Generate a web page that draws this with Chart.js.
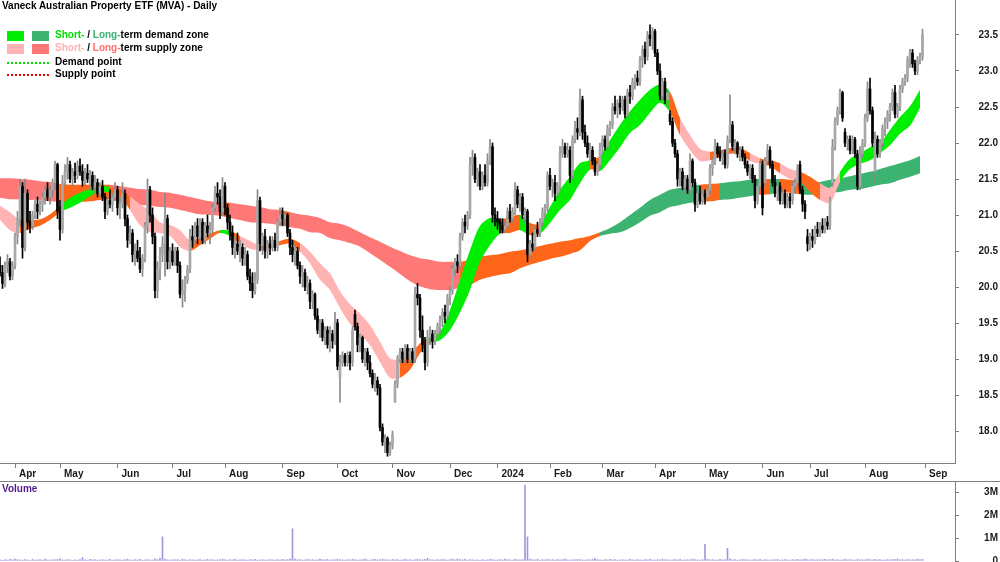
<!DOCTYPE html>
<html>
<head>
<meta charset="utf-8">
<script src="https://cdn.jsdelivr.net/npm/chart.js@4.4.1/dist/chart.umd.min.js"></script>
<style>
body { margin: 0; background: #fff; }
#wrap { position: relative; width: 1000px; height: 562px; overflow: hidden; font: bold 10px "Liberation Sans", Arial, sans-serif; }
canvas { position: absolute; left: 0; }
.t { position: absolute; white-space: nowrap; line-height: 10px; color: #000; }
.sw { position: absolute; width: 17px; height: 10px; }
.dot { position: absolute; width: 42px; height: 0; border-top: 2px dotted; }
</style>
</head>
<body>
<div id="wrap">
  <canvas id="price" width="1000" height="482" style="top:0"></canvas>
  <canvas id="vol" width="1000" height="80" style="top:482px"></canvas>
  <div style="position:absolute;left:0;top:481px;width:1000px;height:1px;background:#808080"></div>

  <div class="t" style="left:2px;top:1px">Vaneck Australian Property ETF (MVA) - Daily</div>

  <div class="sw" style="left:7px;top:31px;background:#00ee00"></div>
  <div class="sw" style="left:32px;top:31px;background:#3cb371"></div>
  <div class="t" style="left:55px;top:30px"><span style="color:#00dd00">Short-</span> / <span style="color:#3cb371">Long-</span>term demand zone</div>

  <div class="sw" style="left:7px;top:44px;background:#ffb3b3"></div>
  <div class="sw" style="left:32px;top:44px;background:#ff7878"></div>
  <div class="t" style="left:55px;top:43px"><span style="color:#ffb3b3">Short-</span> / <span style="color:#ff7070">Long-</span>term supply zone</div>

  <div class="dot" style="left:7px;top:62px;border-color:#00e000"></div>
  <div class="t" style="left:55px;top:57px">Demand point</div>
  <div class="dot" style="left:7px;top:74px;border-color:#ee0000"></div>
  <div class="t" style="left:55px;top:69px">Supply point</div>

  <div class="t" style="left:2px;top:484px;color:#551a8b">Volume</div>
</div>
<script>
// month ticks (trading-day index) and labels
const monthIdx = [6, 24, 47, 69, 90, 113, 135, 157, 180, 199, 220, 241, 262, 282, 305, 324, 346, 370];
const monthLabels = ['Apr', 'May', 'Jun', 'Jul', 'Aug', 'Sep', 'Oct', 'Nov', 'Dec', '2024', 'Feb', 'Mar', 'Apr', 'May', 'Jun', 'Jul', 'Aug', 'Sep'];
const priceTicks = [18.0, 18.5, 19.0, 19.5, 20.0, 20.5, 21.0, 21.5, 22.0, 22.5, 23.0, 23.5];
const volTicks = [0, 1, 2, 3];
const volLabels = ['0', '1M', '2M', '3M'];

const opens = [
  20.30,20.20,20.05,20.30,20.35,20.15,20.30,20.70,20.95,21.40,
  20.55,21.30,20.90,20.85,21.00,21.15,21.05,21.15,21.25,21.35,
  21.25,21.35,21.45,21.70,21.05,20.80,21.45,21.60,21.70,21.50,
  21.60,21.55,21.68,21.60,21.48,21.58,21.50,21.55,21.40,21.45,
  21.30,21.40,21.25,21.05,21.20,21.15,21.25,21.35,21.10,21.15,
  21.30,20.95,20.65,20.75,20.45,20.50,20.40,20.25,20.40,20.85,
  21.35,21.00,20.70,19.95,20.25,20.45,20.60,20.95,20.35,20.50,
  20.35,20.50,20.30,19.90,19.95,20.10,20.25,20.70,20.65,20.85,
  20.70,20.90,20.65,20.85,20.75,20.80,21.10,21.30,21.25,21.05,
  21.40,21.10,20.90,20.75,20.55,20.60,20.50,20.55,20.40,20.45,
  20.15,20.05,19.95,20.10,21.20,20.60,20.70,20.50,20.60,20.55,
  20.65,20.55,20.90,21.00,20.95,21.00,20.75,20.55,20.45,20.50,
  20.30,20.15,20.20,20.00,20.05,19.80,19.90,19.60,19.40,19.50,
  19.30,19.40,19.20,19.35,19.25,19.50,18.75,18.95,19.05,18.95,
  19.05,18.95,19.62,19.45,19.20,19.30,19.00,19.10,18.95,18.80,
  18.65,18.70,18.60,18.05,17.85,17.90,17.70,17.80,18.40,18.65,
  19.00,19.10,19.00,19.15,19.00,19.10,19.00,19.90,19.85,19.40,
  19.20,18.95,19.30,19.35,19.25,19.35,19.45,19.55,19.65,19.60,
  19.85,19.95,20.25,20.35,20.30,20.70,20.90,20.85,21.00,21.70,
  21.80,21.50,21.60,21.40,21.55,21.45,21.75,21.95,21.00,20.95,
  20.90,20.85,20.80,20.85,21.05,20.95,21.05,21.35,21.15,21.25,
  21.00,21.05,20.45,20.60,20.55,20.80,20.75,20.90,21.05,21.10,
  21.55,21.40,21.45,21.30,21.40,21.85,21.95,21.85,21.90,21.55,
  22.05,22.20,22.15,22.60,22.15,22.00,21.85,21.90,21.75,21.60,
  21.70,21.95,22.05,21.95,22.20,22.25,22.50,22.45,22.55,22.50,
  22.60,22.40,22.70,22.65,22.85,22.90,22.85,23.15,23.30,23.20,
  23.50,23.45,23.55,23.25,23.00,22.65,22.85,22.60,22.40,22.30,
  22.00,21.85,21.50,21.60,21.40,21.50,21.35,21.75,21.45,21.15,
  21.30,21.20,21.30,21.25,21.35,21.65,21.75,21.95,21.85,21.80,
  21.85,21.70,22.05,22.25,21.95,22.00,21.85,21.90,21.80,21.70,
  21.60,21.65,21.50,21.20,21.40,21.70,21.45,21.75,21.90,21.70,
  21.45,21.30,21.40,21.20,21.30,21.15,21.25,21.20,21.40,21.45,
  21.70,21.35,21.15,20.70,20.60,20.70,20.65,20.80,20.75,20.85,
  20.80,20.90,20.85,21.45,21.95,22.30,22.45,22.70,22.15,22.00,
  22.05,21.90,22.05,21.85,21.40,21.85,22.00,22.35,22.75,22.45,
  21.60,22.05,21.85,22.00,22.20,22.30,22.40,22.50,22.70,22.40,
  22.50,22.75,22.85,22.90,23.15,23.25,23.10,23.00,23.15,23.20
];
const highs = [
  20.42,20.30,20.35,20.45,20.40,20.35,20.75,21.05,21.50,21.45,
  21.50,21.35,21.05,21.05,21.20,21.25,21.20,21.30,21.40,21.45,
  21.40,21.50,21.75,21.72,21.20,21.55,21.70,21.80,21.75,21.65,
  21.72,21.75,21.78,21.70,21.65,21.70,21.62,21.60,21.55,21.50,
  21.45,21.48,21.30,21.25,21.35,21.30,21.45,21.40,21.25,21.45,
  21.35,21.00,20.85,20.80,20.60,20.65,20.55,20.45,20.90,21.50,
  21.40,21.10,20.75,20.35,20.55,20.70,21.30,21.00,20.55,20.60,
  20.55,20.55,20.35,20.10,20.15,20.30,20.80,20.85,20.90,20.95,
  20.95,20.95,20.90,21.00,20.90,21.15,21.40,21.45,21.35,21.52,
  21.45,21.15,21.00,20.85,20.70,20.75,20.65,20.60,20.55,20.50,
  20.25,20.20,20.20,21.35,21.25,20.75,20.80,20.65,20.70,20.70,
  20.75,20.95,21.10,21.10,21.05,21.02,20.80,20.65,20.60,20.55,
  20.35,20.30,20.25,20.15,20.10,19.95,19.92,19.70,19.55,19.55,
  19.45,19.45,19.45,19.40,19.65,19.55,19.05,19.10,19.08,19.10,
  19.10,19.45,19.68,19.50,19.35,19.32,19.15,19.15,19.05,18.85,
  18.80,18.75,18.65,18.10,17.95,17.92,17.85,18.00,18.70,19.05,
  19.15,19.15,19.20,19.20,19.15,19.15,20.00,20.05,19.90,19.60,
  19.30,19.40,19.45,19.40,19.40,19.50,19.60,19.70,19.75,19.90,
  20.00,20.30,20.40,20.45,20.75,20.95,21.00,21.05,21.80,21.90,
  21.85,21.65,21.70,21.60,21.70,21.85,22.05,22.00,21.10,21.05,
  20.95,20.95,20.90,21.10,21.15,21.10,21.45,21.40,21.30,21.30,
  21.10,21.08,20.65,20.75,20.85,20.90,20.95,21.10,21.15,21.60,
  21.65,21.50,21.55,21.45,21.95,22.05,22.00,22.00,21.95,22.10,
  22.30,22.35,22.75,22.65,22.25,22.10,22.00,21.95,21.80,21.75,
  22.00,22.10,22.10,22.25,22.30,22.55,22.65,22.60,22.65,22.65,
  22.65,22.75,22.80,22.90,22.95,23.00,23.20,23.35,23.40,23.55,
  23.64,23.60,23.58,23.30,23.10,22.90,22.90,22.75,22.45,22.35,
  22.05,21.90,21.65,21.65,21.55,21.55,21.85,21.78,21.50,21.35,
  21.40,21.35,21.35,21.40,21.70,21.80,22.05,22.00,21.95,21.90,
  21.90,22.10,22.67,22.30,22.05,22.02,21.95,21.95,21.85,21.75,
  21.70,21.70,21.55,21.45,21.75,21.75,21.80,21.98,21.95,21.75,
  21.55,21.45,21.45,21.35,21.35,21.30,21.30,21.45,21.50,21.70,
  21.75,21.40,21.20,20.80,20.75,20.80,20.85,20.90,20.90,20.95,
  20.95,20.98,21.25,22.05,22.35,22.50,22.75,22.72,22.20,22.10,
  22.10,22.10,22.08,21.90,21.95,22.05,22.40,22.85,22.90,22.50,
  22.15,22.10,22.05,22.25,22.35,22.45,22.55,22.75,22.80,22.55,
  22.80,22.90,22.95,23.20,23.30,23.30,23.15,23.20,23.25,23.58
];
const lows = [
  20.15,19.98,20.00,20.20,20.10,20.10,20.25,20.60,20.85,20.40,
  20.50,20.80,20.75,20.80,20.95,20.95,21.00,21.05,21.15,21.20,
  21.15,21.25,21.35,20.95,20.65,20.75,21.40,21.50,21.45,21.40,
  21.45,21.50,21.55,21.40,21.42,21.45,21.35,21.35,21.30,21.25,
  21.25,21.20,20.95,21.00,21.10,21.05,21.20,21.00,20.95,21.10,
  20.85,20.55,20.60,20.35,20.30,20.35,20.20,20.15,20.35,20.75,
  20.90,20.60,19.85,19.85,20.10,20.35,20.15,20.25,20.25,20.30,
  20.30,20.20,19.85,19.72,19.80,20.05,20.20,20.55,20.60,20.60,
  20.65,20.60,20.60,20.70,20.60,20.75,21.05,21.15,20.95,21.00,
  21.00,20.80,20.65,20.45,20.40,20.45,20.35,20.30,20.30,20.10,
  19.95,19.85,19.90,20.05,20.50,20.45,20.40,20.40,20.45,20.50,
  20.50,20.50,20.85,20.85,20.85,20.70,20.45,20.35,20.30,20.25,
  20.05,20.00,19.95,19.90,19.70,19.70,19.55,19.35,19.30,19.25,
  19.20,19.15,19.10,19.15,19.20,18.85,18.40,18.90,18.90,18.90,
  18.85,18.90,19.40,19.10,19.10,18.95,18.90,18.85,18.75,18.60,
  18.55,18.50,18.00,17.80,17.70,17.65,17.66,17.75,18.40,18.60,
  18.95,18.95,18.95,18.95,18.95,18.95,18.95,19.75,19.30,19.10,
  18.85,18.90,19.20,19.15,19.20,19.30,19.35,19.45,19.50,19.55,
  19.75,19.90,20.15,20.20,20.25,20.65,20.75,20.80,20.95,21.55,
  21.45,21.40,21.35,21.35,21.40,21.40,21.70,20.90,20.85,20.80,
  20.75,20.75,20.75,20.80,20.90,20.90,21.00,21.10,21.05,20.95,
  20.90,20.35,20.40,20.50,20.50,20.70,20.70,20.85,20.95,21.05,
  21.35,21.25,21.20,21.25,21.35,21.80,21.80,21.80,21.45,21.50,
  22.00,22.05,22.10,22.05,21.95,21.80,21.75,21.70,21.55,21.55,
  21.65,21.85,21.90,21.90,22.10,22.20,22.40,22.35,22.40,22.45,
  22.35,22.35,22.55,22.60,22.75,22.80,22.80,23.05,23.10,23.15,
  23.35,23.30,23.20,22.95,22.60,22.60,22.55,22.50,22.25,21.95,
  21.80,21.40,21.40,21.35,21.30,21.30,21.30,21.40,21.05,21.10,
  21.15,21.15,21.15,21.20,21.30,21.55,21.70,21.80,21.75,21.70,
  21.65,21.65,22.00,21.90,21.85,21.80,21.75,21.75,21.65,21.55,
  21.50,21.45,21.10,21.15,21.35,21.00,21.40,21.70,21.65,21.40,
  21.25,21.20,21.15,21.15,21.10,21.10,21.10,21.15,21.30,21.40,
  21.30,21.05,20.95,20.50,20.52,20.55,20.60,20.70,20.70,20.75,
  20.75,20.80,20.80,21.40,21.90,22.25,22.40,22.30,21.95,21.90,
  21.85,21.85,21.80,21.35,21.35,21.80,21.95,22.30,22.40,21.95,
  21.45,21.80,21.80,21.95,22.10,22.20,22.30,22.45,22.35,22.35,
  22.45,22.70,22.80,22.85,23.05,23.05,22.95,22.95,23.10,23.15
];
const closes = [
  20.20,20.05,20.30,20.38,20.15,20.30,20.70,20.95,21.40,20.55,
  21.30,20.90,20.85,21.00,21.15,21.05,21.15,21.25,21.35,21.25,
  21.35,21.45,21.70,21.05,20.80,21.45,21.60,21.70,21.50,21.60,
  21.55,21.68,21.60,21.48,21.58,21.50,21.55,21.40,21.45,21.30,
  21.40,21.25,21.05,21.20,21.15,21.25,21.35,21.10,21.15,21.30,
  20.95,20.65,20.75,20.45,20.50,20.40,20.25,20.40,20.85,21.35,
  21.00,20.70,19.95,20.25,20.45,20.60,20.95,20.35,20.50,20.35,
  20.50,20.30,19.90,19.95,20.10,20.25,20.70,20.65,20.85,20.70,
  20.90,20.65,20.85,20.75,20.80,21.10,21.30,21.25,21.05,21.40,
  21.10,20.90,20.75,20.55,20.60,20.50,20.55,20.40,20.45,20.15,
  20.05,19.95,20.10,21.20,20.60,20.70,20.50,20.60,20.55,20.65,
  20.55,20.90,21.00,20.95,21.00,20.75,20.55,20.45,20.50,20.30,
  20.15,20.20,20.00,20.05,19.80,19.90,19.60,19.40,19.50,19.30,
  19.40,19.20,19.35,19.25,19.50,18.90,18.95,19.05,18.95,19.05,
  18.95,19.40,19.45,19.20,19.30,19.00,19.10,18.95,18.80,18.65,
  18.70,18.60,18.05,17.85,17.90,17.70,17.80,17.95,18.65,19.00,
  19.10,19.00,19.15,19.00,19.10,19.00,19.90,19.85,19.40,19.20,
  18.95,19.30,19.35,19.25,19.35,19.45,19.55,19.65,19.60,19.85,
  19.95,20.25,20.35,20.30,20.70,20.90,20.85,21.00,21.70,21.80,
  21.50,21.60,21.40,21.55,21.45,21.75,21.95,21.00,20.95,20.90,
  20.85,20.80,20.85,21.05,20.95,21.05,21.35,21.15,21.25,21.00,
  21.05,20.45,20.60,20.55,20.80,20.75,20.90,21.05,21.10,21.55,
  21.40,21.45,21.30,21.40,21.85,21.95,21.85,21.90,21.55,22.05,
  22.20,22.15,22.60,22.15,22.00,21.85,21.90,21.75,21.60,21.70,
  21.95,22.05,21.95,22.20,22.25,22.50,22.45,22.55,22.50,22.60,
  22.40,22.70,22.65,22.85,22.90,22.85,23.15,23.30,23.20,23.50,
  23.45,23.55,23.25,23.00,22.65,22.85,22.60,22.70,22.30,22.00,
  21.85,21.50,21.60,21.40,21.50,21.35,21.75,21.45,21.15,21.30,
  21.20,21.30,21.25,21.35,21.65,21.75,21.95,21.85,21.80,21.85,
  21.70,22.05,22.25,21.95,22.00,21.85,21.90,21.80,21.70,21.60,
  21.65,21.50,21.20,21.40,21.70,21.10,21.75,21.90,21.70,21.45,
  21.30,21.40,21.20,21.30,21.15,21.25,21.20,21.40,21.45,21.65,
  21.35,21.15,21.05,20.60,20.70,20.65,20.80,20.75,20.85,20.80,
  20.90,20.85,21.20,21.95,22.30,22.45,22.70,22.35,22.00,22.05,
  21.90,22.05,21.85,21.40,21.85,22.00,22.35,22.75,22.45,22.00,
  22.05,21.85,22.00,22.20,22.30,22.40,22.50,22.70,22.40,22.50,
  22.75,22.85,22.90,23.15,23.25,23.10,23.00,23.15,23.20,23.50
];
// volume in millions
const volumes = [
  .05,.03,.06,.04,.07,.05,.08,.06,.05,.04, .06,.05,.03,.07,.04,.05,.06,.04,.08,.05,
  .04,.06,.05,.07,.09,.05,.04,.06,.05,.03, .05,.04,.06,.15,.05,.04,.07,.05,.06,.04,
  .05,.06,.04,.05,.07,.04,.05,.06,.05,.04, .06,.08,.05,.04,.06,.05,.07,.04,.05,.06,
  .05,.04,.09,.06,.12,1.05,.08,.05,.04,.06, .05,.06,.04,.07,.05,.04,.06,.05,.04,.05,
  .06,.04,.05,.07,.05,.06,.04,.05,.06,.08, .05,.04,.06,.05,.07,.04,.05,.06,.05,.04,
  .06,.05,.07,.04,.05,.06,.04,.05,.06,.05, .04,.06,.05,.07,.05,.06,.09,1.4,.08,.05,
  .06,.04,.05,.07,.05,.06,.04,.05,.08,.06, .05,.07,.04,.06,.05,.08,.06,.05,.04,.06,
  .05,.07,.06,.04,.05,.06,.08,.05,.04,.06, .07,.05,.06,.08,.05,.06,.04,.07,.05,.06,
  .04,.05,.07,.05,.06,.04,.05,.08,.06,.05, .07,.12,.06,.05,.04,.06,.05,.07,.05,.04,
  .06,.08,.05,.09,.06,.05,.07,.04,.06,.05, .04,.05,.03,.06,.04,.05,.07,.06,.04,.05,
  .06,.05,.08,.06,.05,.04,.07,.06,.05,.06, 3.3,1.05,.08,.06,.05,.07,.04,.06,.05,.07,
  .05,.06,.04,.07,.05,.06,.08,.05,.04,.06, .05,.07,.06,.05,.04,.06,.05,.07,.12,.06,
  .05,.04,.06,.05,.07,.05,.06,.04,.05,.06, .04,.05,.07,.05,.04,.06,.05,.04,.06,.05,
  .07,.05,.04,.06,.05,.08,.05,.06,.04,.05, .06,.05,.07,.04,.05,.06,.05,.08,.06,.05,
  .04,.06,.72,.08,.05,.06,.04,.05,.07,.05, .06,.55,.09,.05,.06,.04,.05,.07,.05,.06,
  .04,.05,.06,.05,.07,.04,.06,.05,.04,.06, .05,.07,.04,.05,.06,.05,.04,.06,.05,.07,
  .05,.06,.08,.06,.05,.07,.04,.06,.05,.06, .07,.05,.06,.08,.05,.06,.04,.05,.07,.05,
  .06,.05,.04,.07,.05,.06,.05,.08,.06,.05, .07,.05,.06,.04,.05,.06,.05,.07,.06,.09,
  .05,.06,.04,.07,.05,.06,.05,.08,.06,.07
];

// trend bands, one reading every 4 trading days
const longTop = [
  21.51,21.51,21.50,21.49,21.47,21.46,21.43,21.42,21.42,21.42,
  21.42,21.42,21.40,21.38,21.36,21.35,21.32,21.31,21.28,21.25,
  21.22,21.19,21.18,21.17,21.15,21.13,21.11,21.08,21.07,21.04,
  21.01,20.99,20.96,20.90,20.88,20.83,20.76,20.69,20.63,20.56,
  20.50,20.44,20.40,20.38,20.35,20.35,20.35,20.38,20.42,20.44,
  20.46,20.49,20.51,20.54,20.57,20.60,20.63,20.65,20.68,20.71,
  20.76,20.82,20.90,21.00,21.10,21.21,21.28,21.35,21.38,21.40,
  21.42,21.43,21.44,21.46,21.47,21.49,21.50,21.50,21.50,21.49,
  21.47,21.44,21.46,21.49,21.51,21.54,21.57,21.60,21.64,21.68,
  21.72,21.76,21.82
];
const longBot = [
  21.24,21.22,21.22,21.21,21.21,21.19,21.18,21.18,21.18,21.19,
  21.21,21.22,21.19,21.17,21.14,21.13,21.11,21.10,21.07,21.04,
  21.01,21.00,20.99,20.96,20.93,20.90,20.89,20.88,20.86,20.83,
  20.81,20.76,20.75,20.68,20.65,20.61,20.56,20.47,20.38,20.28,
  20.18,20.08,20.01,19.97,19.96,19.96,19.99,20.03,20.10,20.14,
  20.17,20.19,20.26,20.31,20.35,20.39,20.42,20.46,20.51,20.64,
  20.71,20.74,20.76,20.82,20.90,20.99,21.04,21.11,21.14,21.17,
  21.18,21.19,21.21,21.22,21.24,21.26,21.28,21.29,21.31,21.31,
  21.29,21.28,21.28,21.31,21.32,21.35,21.36,21.39,21.42,21.44,
  21.49,21.53,21.58
];
const shortTop = [
  21.13,21.04,20.93,20.93,20.94,21.01,21.13,21.24,21.31,21.36,
  21.40,21.39,21.35,21.26,21.15,21.06,20.90,20.86,20.79,20.65,
  20.68,20.74,20.79,20.78,20.71,20.64,20.58,20.58,20.64,20.67,
  20.61,20.49,20.33,20.19,19.94,19.76,19.63,19.47,19.24,19.01,
  18.99,19.06,19.22,19.31,19.38,19.68,20.10,20.51,20.85,20.96,
  20.94,20.97,21.00,20.89,20.88,21.11,21.35,21.53,21.72,21.76,
  21.82,22.04,22.25,22.44,22.60,22.74,22.81,22.71,22.35,22.11,
  21.92,21.88,21.90,21.93,21.93,21.86,21.79,21.76,21.72,21.64,
  21.60,21.53,21.44,21.38,21.60,21.78,21.85,21.94,22.00,22.18,
  22.36,22.51,22.74
];
const shortBot = [
  20.93,20.79,20.75,20.81,20.85,20.93,21.04,21.10,21.17,21.26,
  21.32,21.31,21.26,21.07,20.86,20.76,20.75,20.71,20.56,20.50,
  20.58,20.67,20.75,20.71,20.61,20.53,20.51,20.53,20.58,20.60,
  20.49,20.33,20.10,19.96,19.71,19.49,19.35,19.19,18.96,18.74,
  18.74,18.85,19.08,19.22,19.26,19.40,19.65,19.96,20.35,20.58,
  20.74,20.75,20.79,20.72,20.74,20.89,21.07,21.21,21.44,21.63,
  21.61,21.76,21.94,22.14,22.25,22.42,22.56,22.43,22.11,21.90,
  21.75,21.76,21.81,21.85,21.85,21.75,21.71,21.68,21.58,21.50,
  21.47,21.32,21.21,21.17,21.46,21.64,21.71,21.76,21.86,21.97,
  22.13,22.24,22.49
];
// zone state per reading: g/d demand, p/s supply, o neutral
const longState = 'ssssss' + 'ooooo' + 'sssssssssss' + 'o' + 'sssss' + 'o' + 'sssssssssssssssss' +
  'oooooooooooooo' + 'dddddddddd' + 'oo' + 'dddd' + 'o' + 'd' + 'oo' + 'ddddddddddddd';
const shortState = 'pp' + 'oooo' + 'ggggg' + 'oo' + 'pppppp' + 'ooo' + 'g' + 'o' + 'pp' + 'oooo' +
  'pppppppppp' + 'ooo' + 'ggggggg' + 'oo' + 'g' + 'o' + 'ggggg' + 'o' + 'ggggggg' + 'o' + 'ppp' +
  'oooo' + 'p' + 'oo' + 'pp' + 'oo' + 'pp' + 'ggggggggg';

const zoneColors = { g: '#00ee00', d: '#3cb371', p: '#ffb3b3', s: '#ff7878', o: '#ff661a' };
const bandX = longTop.map((_, k) => k * 4);

function bandEdge(values, fillState) {
    const ds = {
        type: 'line',
        data: values.map((v, k) => ({ x: bandX[k], y: v })),
        borderWidth: 0,
        borderColor: 'rgba(0,0,0,0)',
        pointRadius: 0,
        tension: 0.3,
        fill: false
    };
    if (fillState) {
        ds.fill = '-1';
        ds.backgroundColor = zoneColors.o;
        ds.segment = { backgroundColor: ctx => zoneColors[fillState[ctx.p0DataIndex]] };
    }
    return ds;
}

const upBody = '#a8a8a8';
const candleColors = closes.map((c, i) => c >= opens[i] ? upBody : '#000000');
const wickColors = closes.map((c, i) => c >= opens[i] ? '#8a8a8a' : '#000000');

const longA = bandEdge(longTop, null); longA.order = 10;
const longB = bandEdge(longBot, longState); longB.order = 10;
const shortA = bandEdge(shortTop, null); shortA.order = 8;
const shortB = bandEdge(shortBot, shortState); shortB.order = 8;

const axisFont = { family: '"Liberation Sans", Arial', size: 10, weight: 'bold' };

new Chart(document.getElementById('price'), {
    type: 'bar',
    data: {
        datasets: [
            longA, longB, shortA, shortB,
            {
                data: closes.map((c, i) => ({ x: i, y: [lows[i], highs[i]] })),
                backgroundColor: wickColors,
                barThickness: 1,
                grouped: false,
                order: 2
            },
            {
                data: closes.map((c, i) => ({ x: i, y: [opens[i], c] })),
                backgroundColor: candleColors,
                barThickness: 2,
                minBarLength: 1,
                grouped: false,
                order: 1
            }
        ]
    },
    options: {
        responsive: false,
        animation: false,
        layout: { padding: { left: 0, right: 2, top: 0, bottom: 0 } },
        plugins: { legend: { display: false }, tooltip: { enabled: false } },
        scales: {
            x: {
                type: 'linear', min: 0, max: 382, offset: false,
                grid: { drawOnChartArea: false, offset: false, tickLength: 5, color: '#808080' },
                border: { color: '#808080' },
                ticks: {
                    autoSkip: false, maxRotation: 0, align: 'start', labelOffset: 4, padding: 0,
                    color: '#1a1a1a', font: axisFont,
                    callback: (v, i) => monthLabels[i]
                },
                afterBuildTicks: s => { s.ticks = monthIdx.map(v => ({ value: v })); },
                afterFit: s => { s.height = 19; s.paddingLeft = 0; s.paddingRight = 0; }
            },
            y: {
                position: 'right', min: 17.556, max: 23.986,
                grid: { drawOnChartArea: false, tickLength: 4, color: '#808080' },
                border: { color: '#808080' },
                ticks: {
                    crossAlign: 'far', color: '#1a1a1a', font: axisFont,
                    callback: v => v.toFixed(1)
                },
                afterBuildTicks: s => { s.ticks = priceTicks.map(v => ({ value: v })); },
                afterFit: s => { s.width = 43; s.paddingTop = 0; s.paddingBottom = 0; }
            }
        }
    }
});

new Chart(document.getElementById('vol'), {
    type: 'bar',
    data: {
        datasets: [{
            data: volumes.map((v, i) => ({ x: i, y: v })),
            backgroundColor: '#9c9cdc',
            barThickness: 1
        }]
    },
    options: {
        responsive: false,
        animation: false,
        layout: { padding: { left: 0, right: 2, top: 0, bottom: 1 } },
        plugins: { legend: { display: false }, tooltip: { enabled: false } },
        scales: {
            x: { type: 'linear', min: 0, max: 382, offset: false, display: false },
            y: {
                position: 'right', min: 0, max: 3.435,
                grid: { drawOnChartArea: false, tickLength: 4, color: '#808080' },
                border: { color: '#808080' },
                ticks: {
                    crossAlign: 'far', color: '#1a1a1a', font: axisFont,
                    callback: (v, i) => volLabels[i]
                },
                afterBuildTicks: s => { s.ticks = volTicks.map(v => ({ value: v })); },
                afterFit: s => { s.width = 43; s.paddingTop = 0; s.paddingBottom = 0; }
            }
        }
    }
});
</script>
</body>
</html>
